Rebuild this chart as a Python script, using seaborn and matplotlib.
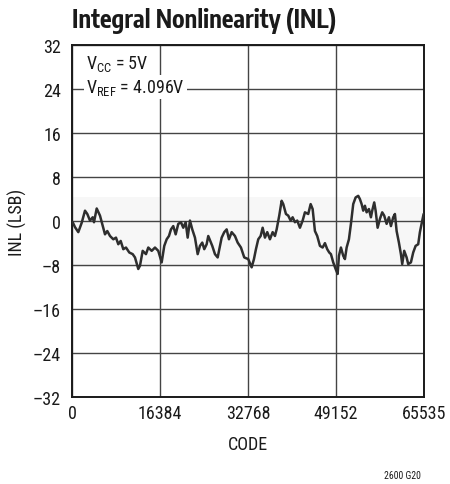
import matplotlib
matplotlib.use("Agg")
import matplotlib.pyplot as plt
import seaborn as sns
import pandas as pd

code = [0, 130, 559, 1173, 1806, 2420, 2849, 3351, 3854, 4096, 4599, 5213, 5827, 6144, 6572,
        7075, 7689, 8192, 8620, 9067, 9551, 10054, 10668, 11301, 11729, 12344, 12660, 13163,
        13777, 14206, 14839, 15453, 16067, 16700, 17184, 17631, 18059, 18432, 18860, 19307,
        19791, 20294, 20722, 21169, 21541, 21969, 22398, 22900, 23403, 23831, 24259, 24632,
        25078, 25376, 26121, 26624, 27127, 27555, 27871, 28355, 28802, 29230, 29733, 30347,
        30850, 31464, 32079, 32824, 33457, 33885, 34257, 34686, 35132, 35505, 35933, 36361,
        36864, 37367, 37795, 38111, 38596, 39042, 39340, 39843, 40271, 40718, 41090, 41518,
        41947, 42449, 42952, 43380, 43995, 44442, 44814, 45242, 45670, 46173, 46676, 47104,
        47532, 47905, 48221, 48649, 49096, 49469, 49711, 50083, 50512, 50828, 51145, 51573,
        51945, 52374, 52820, 53304, 53620, 53937, 54235, 54551, 54868, 55296, 55668, 55910,
        56283, 56543, 56916, 57344, 57772, 58145, 58592, 59020, 59393, 59821, 60137, 60454,
        60881, 61254, 61496, 61868, 62315, 62613, 63116, 63544, 63991, 64475, 64791, 65219,
        65480]
inl = [-0.2, -0.2, -1.1, -2.0, -0.3, 1.9, 1.3, 0.1, 0.7, -0.2, 2.3, 1.0, -1.2, -2.4, -1.8,
       -2.7, -3.3, -3.0, -4.2, -3.6, -5.1, -4.8, -5.7, -6.0, -6.6, -8.7, -8.1, -5.4,
       -6.0, -4.8, -5.4, -4.8, -5.4, -7.5, -4.5, -3.3, -2.7, -1.5, -0.9, -2.4,
       -0.5, -0.2, -1.2, -0.2, -3.0, 0.1, -1.5, -3.0, -6.0, -4.5, -3.9, -5.1,
       -4.2, -2.7, -4.5, -6.0, -6.6, -4.5, -3.0, -2.0, -1.5, -3.3, -2.0, -2.7,
       -3.9, -4.8, -6.6, -6.9, -8.4, -6.9, -5.1, -3.3, -2.7, -1.2, -3.0, -2.0,
       -3.3, -2.0, -2.7, -1.5, 1.0, 3.7, 3.1, 1.3, 1.0, 0.1, 0.7, -0.2,
       0.1, -1.2, 0.1, 1.6, 1.3, 3.1, 2.2, -1.8, -2.7, -4.5, -4.8, -4.0,
       -5.1, -5.7, -6.0, -7.5, -8.7, -9.6, -6.3, -4.8, -6.3, -6.9, -4.8, -3.3,
       -0.5, 3.1, 4.3, 4.6, 4.0, 3.1, 1.9, 2.8, 1.6, 2.2, 0.7, 1.9,
       3.4, 1.9, -1.2, 0.4, 1.6, 1.0, -0.5, 0.7, -0.9, 0.7, 1.3, -1.8,
       -3.9, -6.0, -7.8, -5.4, -6.6, -7.8, -7.5, -5.7, -4.5, -4.2, -2.0, 0.1,
       1.3]

x_ticks = [0, 16384, 32768, 49152, 65535]
y_ticks = [32, 24, 16, 8, 0, -8, -16, -24, -32]
y_labels = ["32", "24", "16", "8", "0", "\u20138", "\u201316", "\u201324", "\u201332"]

sns.set_style("white")
FONT = ["Roboto Condensed", "Liberation Sans", "DejaVu Sans"]
TITLE_FONT = ["Encode Sans Condensed", "PT Sans Narrow", "Liberation Sans", "DejaVu Sans"]
plt.rcParams["font.family"] = FONT
plt.rcParams["mathtext.fontset"] = "custom"
plt.rcParams["mathtext.rm"] = "Roboto Condensed"
plt.rcParams["mathtext.it"] = "Roboto Condensed"

fig = plt.figure(figsize=(4.5, 4.85), dpi=100)
ax = fig.add_axes([0.16, 0.179, 0.782, 0.726])

ax.axhspan(-8.3, 4.4, color="#f7f7f7", zorder=0, lw=0)

df = pd.DataFrame({"code": code, "inl": inl})
sns.lineplot(data=df, x="code", y="inl", ax=ax, color="#2e2e2e", lw=1.8, zorder=3)

ax.set_xlim(0, 65535)
ax.set_ylim(-32, 32)
ax.set_xticks(x_ticks)
ax.set_yticks(y_ticks)
ax.set_yticklabels(y_labels)
ax.tick_params(axis="both", length=0, labelsize=13, colors="#1a1a1a")
ax.tick_params(axis="x", pad=5)
ax.tick_params(axis="y", pad=8)
ax.grid(True, color="#444444", lw=1.0)
ax.set_axisbelow(True)
for s in ax.spines.values():
    s.set_color("#1a1a1a")
    s.set_linewidth(1.4)

ax.set_xlabel("CODE", fontsize=13, color="#1a1a1a", labelpad=9)
ax.set_ylabel("INL (LSB)", fontsize=13, color="#1a1a1a", labelpad=4)

fig.text(0.16, 0.942, "Integral Nonlinearity (INL)", fontsize=17.5, fontweight="bold",
         family=TITLE_FONT, color="#1a1a1a", ha="left", va="baseline")

ax.text(0.04, 0.978, r"V$_{\rm CC}$ = 5V", transform=ax.transAxes, fontsize=13,
        color="#1a1a1a", ha="left", va="top",
        bbox=dict(facecolor="white", edgecolor="none", pad=1.5), zorder=5)
ax.text(0.04, 0.909, r"V$_{\rm REF}$ = 4.096V", transform=ax.transAxes, fontsize=13,
        color="#1a1a1a", ha="left", va="top",
        bbox=dict(facecolor="white", edgecolor="none", pad=1.5), zorder=5)

fig.text(0.895, 0.008, "2600 G20", fontsize=7, color="#1a1a1a", ha="center", va="bottom")

fig.savefig("out.png", dpi=100)
